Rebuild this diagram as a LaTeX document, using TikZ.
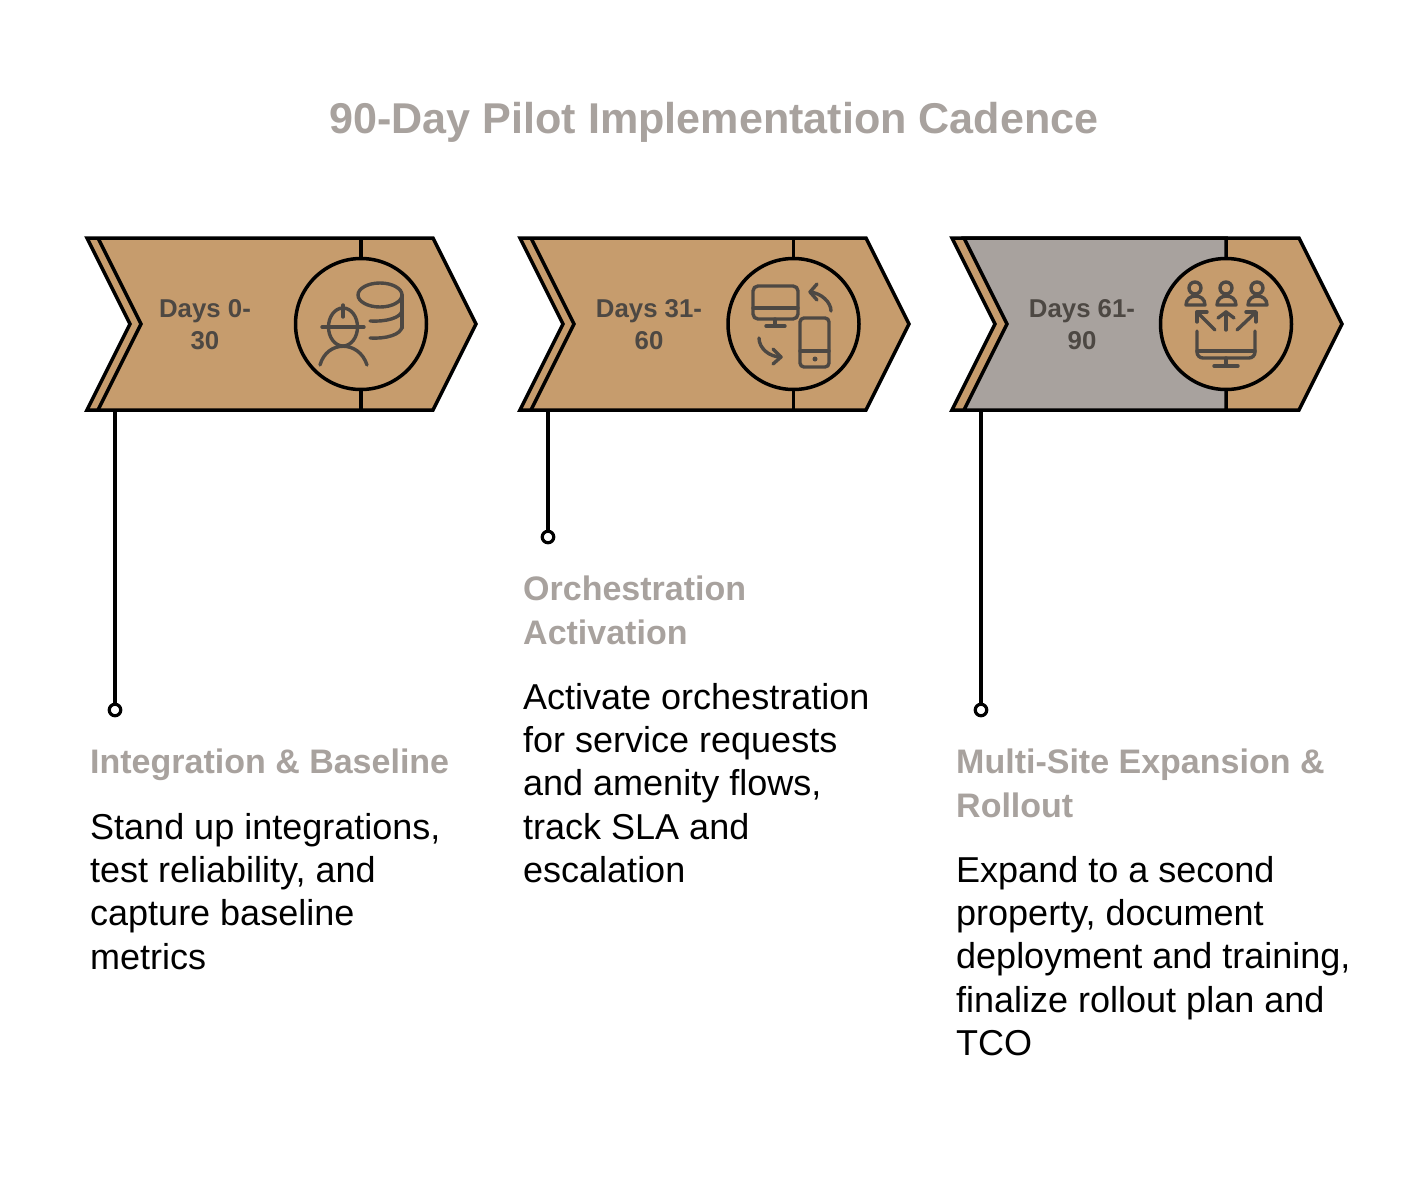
\documentclass[tikz,border=0pt]{standalone}
\usepackage{fontspec}
\setmainfont{Liberation Sans}
\definecolor{tan}{HTML}{C69C6D}
\definecolor{stone}{HTML}{A8A29E}
\definecolor{ink}{HTML}{4D4843}

\begin{document}
\begin{tikzpicture}[x=1pt,y=-1pt,
    outline/.style={draw=black,line width=3.5pt},
    iconline/.style={draw=ink,line width=3.4pt,line cap=round,line join=round},
    stem/.style={black,line width=3.5pt},
    enddot/.style={circle,draw=black,line width=3.2pt,fill=white,minimum size=11.5pt,inner sep=0pt},
    daylabel/.style={font=\bfseries\fontsize{25.8}{32}\selectfont,text=ink,align=center},
    headline/.style={font=\bfseries\fontsize{34}{43.3}\selectfont,text=stone,align=left,anchor=north west,inner sep=0pt},
    bodytext/.style={font=\fontsize{36}{43.3}\selectfont,text=black,align=left,anchor=north west,inner sep=0pt}]
      \useasboundingbox (0,0) rectangle (1428,1194);
      \fill[white] (0,0) rectangle (1428,1194);
      \node[font=\bfseries\fontsize{43.1}{50}\selectfont,text=stone] (title) at (714,122) {90-Day Pilot Implementation Cadence};

      % first chevron
      \draw[outline,fill=tan] (87,238) -- (433,238) -- (476,324) -- (433,410) -- (87,410) -- (130,324) -- cycle;
      \draw[outline] (98,238) -- (141,324) -- (98,410);
      \draw[outline] (361,238) -- (361,410);
      \draw[outline,fill=tan] (361,324) circle (65.5pt);
      \node[daylabel] (days1) at (205,324.5) {Days 0-\\30};

      % second chevron
      \draw[outline,fill=tan] (520,238) -- (866,238) -- (909,324) -- (866,410) -- (520,410) -- (563,324) -- cycle;
      \draw[outline] (531,238) -- (574,324) -- (531,410);
      \draw[outline] (793.5,238) -- (793.5,410);
      \draw[outline,fill=tan] (793.5,324) circle (65.5pt);
      \node[daylabel] (days2) at (649,324.5) {Days 31-\\60};

      % third chevron
      \draw[outline,fill=tan] (952,238) -- (1299,238) -- (1342,324) -- (1299,410) -- (952,410) -- (995,324) -- cycle;
      \draw[outline,fill=stone] (964,238) -- (1226,238) -- (1226,410) -- (964,410) -- (1007,324) -- cycle;
      \draw[outline,fill=tan] (1226,324) circle (65.5pt);
      \node[daylabel] (days3) at (1082,324.5) {Days 61-\\90};

      % worker and database
      \draw[iconline] (322,327) -- (364,327);
      \draw[iconline] (343,327) ellipse (14.5pt and 19pt);
      \draw[iconline] (343,305) -- (343,317);
      \draw[iconline] (320,365) .. controls (327,340) and (359,340) .. (367,365);
      \draw[iconline] (380,295) ellipse (22pt and 12pt);
      \draw[iconline] (402,295) -- (402,328);
      \draw[iconline] (370,321) .. controls (385,322) and (402,318) .. (402,310);
      \draw[iconline] (370,338) .. controls (385,339) and (402,335) .. (402,326);

      % screens and arrows
      \draw[iconline,rounded corners=5pt] (753,286) rectangle (798,319);
      \draw[iconline] (753,308) -- (798,308);
      \draw[iconline] (775,319) -- (775,326);
      \draw[iconline] (766,326) -- (785,326);
      \draw[iconline,rounded corners=4pt] (800,318) rectangle (829,367);
      \draw[iconline] (800,351) -- (829,351);
      \fill[ink] (815,359) circle (2.5pt);
      \draw[iconline] (831,311) .. controls (831,302) and (821,293) .. (810,292);
      \draw[iconline] (817,284) -- (810,292) -- (817,300);
      \draw[iconline] (759,338) .. controls (759,348) and (769,357) .. (781,357);
      \draw[iconline] (773,349) -- (781,357) -- (773,364);

      % people and monitor
      \draw[iconline] (1195,288) circle (6pt);
      \draw[iconline] (1226,288) circle (6pt);
      \draw[iconline] (1257,288) circle (6pt);
      \draw[iconline] (1186,305) .. controls (1186,293) and (1205,293) .. (1205,305) -- cycle;
      \draw[iconline] (1217,305) .. controls (1217,293) and (1236,293) .. (1236,305) -- cycle;
      \draw[iconline] (1248,305) .. controls (1248,293) and (1267,293) .. (1267,305) -- cycle;
      \draw[iconline] (1215,330) -- (1197,312);
      \draw[iconline] (1197,322) -- (1197,312) -- (1207,312);
      \draw[iconline] (1226,330) -- (1226,312);
      \draw[iconline] (1218,318) -- (1226,312) -- (1234,318);
      \draw[iconline] (1237,330) -- (1256,312);
      \draw[iconline] (1246,312) -- (1256,312) -- (1256,322);
      \draw[iconline,rounded corners=6pt] (1197,331) -- (1197,358) -- (1255,358) -- (1255,331);
      \draw[iconline] (1197,351) -- (1255,351);
      \draw[iconline] (1226,358) -- (1226,366);
      \draw[iconline] (1214,366) -- (1238,366);

      % connectors
      \coordinate (base1) at (115,410);
      \coordinate (base2) at (548,410);
      \coordinate (base3) at (981,410);
      \node[enddot] (end1) at (115,710) {};
      \node[enddot] (end2) at (548,537) {};
      \node[enddot] (end3) at (981,710) {};
      \draw[stem] (base1) -- (end1);
      \draw[stem] (base2) -- (end2);
      \draw[stem] (base3) -- (end3);

      % texts
      \node[headline] (head1) at (90,749) {Integration \& Baseline};
      \node[bodytext] (body1) at (90,813) {Stand up integrations,\\test reliability, and\\capture baseline\\metrics};
      \node[headline] (head2) at (523,576) {Orchestration\\Activation};
      \node[bodytext] (body2) at (523,683) {Activate orchestration\\for service requests\\and amenity flows,\\track SLA and\\escalation};
      \node[headline] (head3) at (956,749) {Multi-Site Expansion \&\\Rollout};
      \node[bodytext] (body3) at (956,856) {Expand to a second\\property, document\\deployment and training,\\finalize rollout plan and\\TCO};
    \end{tikzpicture}
\end{document}
